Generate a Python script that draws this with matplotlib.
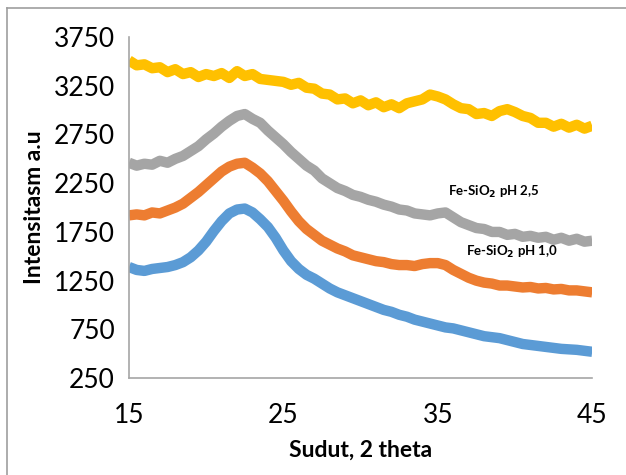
import numpy as np
import matplotlib
matplotlib.use('Agg')
import matplotlib.pyplot as plt
from matplotlib.lines import Line2D

# 2 theta grid (0.5 deg steps) and intensities
theta = np.linspace(15, 45, 61)

yellow = [3510, 3460, 3470, 3430, 3440, 3390, 3420, 3370, 3390, 3340,
          3370, 3350, 3380, 3330, 3400, 3350, 3370, 3320, 3310, 3300,
          3290, 3260, 3280, 3230, 3220, 3170, 3160, 3110, 3120, 3070,
          3100, 3050, 3080, 3030, 3060, 3020, 3070, 3090, 3110, 3160,
          3140, 3110, 3060, 3020, 3010, 2960, 2970, 2940, 2990, 3010,
          2980, 2940, 2920, 2870, 2870, 2830, 2860, 2820, 2850, 2810,
          2840]

gray = [2460, 2430, 2450, 2440, 2480, 2460, 2500, 2530, 2580, 2630,
        2700, 2760, 2830, 2890, 2940, 2960, 2910, 2870, 2790, 2720,
        2650, 2570, 2500, 2430, 2380, 2300, 2250, 2200, 2170, 2130,
        2110, 2080, 2060, 2030, 2010, 1980, 1970, 1940, 1930, 1920,
        1940, 1950, 1900, 1850, 1820, 1790, 1780, 1750, 1750, 1720,
        1730, 1700, 1710, 1690, 1700, 1670, 1690, 1660, 1680, 1650,
        1660]

orange = [1920, 1930, 1920, 1950, 1940, 1970, 2000, 2040, 2100, 2160,
          2230, 2300, 2370, 2420, 2450, 2460, 2410, 2350, 2270, 2170,
          2070, 1960, 1860, 1780, 1720, 1660, 1620, 1580, 1550, 1510,
          1490, 1470, 1450, 1440, 1420, 1410, 1410, 1400, 1420, 1430,
          1430, 1410, 1360, 1320, 1280, 1250, 1230, 1220, 1200, 1200,
          1190, 1180, 1185, 1170, 1175, 1160, 1165, 1150, 1150, 1140,
          1130]

blue = [1390, 1360, 1350, 1370, 1380, 1390, 1410, 1440, 1490, 1560,
        1650, 1760, 1860, 1940, 1980, 1990, 1950, 1880, 1800, 1690,
        1560, 1450, 1370, 1310, 1270, 1220, 1170, 1130, 1100, 1070,
        1040, 1010, 980, 950, 930, 900, 880, 850, 830, 810,
        790, 770, 760, 740, 720, 700, 680, 670, 660, 640,
        620, 600, 590, 580, 570, 560, 550, 545, 540, 530,
        520]

y_ticks = [250, 750, 1250, 1750, 2250, 2750, 3250, 3750]
x_ticks = [15, 25, 35, 45]

plt.rcParams['font.family'] = ['Lato', 'DejaVu Sans']

fig = plt.figure(figsize=(6.26, 4.75), dpi=100)
ax = fig.add_axes([0.206, 0.204, 0.740, 0.718])

lw = 7.5
ax.plot(theta, blue, color='#5B9BD5', linewidth=lw, solid_capstyle='butt')
ax.plot(theta, orange, color='#ED7D31', linewidth=lw, solid_capstyle='butt')
ax.plot(theta, gray, color='#A5A5A5', linewidth=lw, solid_capstyle='butt')
ax.plot(theta, yellow, color='#FFC000', linewidth=lw, solid_capstyle='butt')

ax.set_xlim(15, 45)
ax.set_ylim(250, 3750)
ax.set_xticks(x_ticks)
ax.set_yticks(y_ticks)
ax.tick_params(length=0, labelsize=19, pad=10)
ax.tick_params(axis='x', pad=18)

for s in ['top', 'right']:
    ax.spines[s].set_visible(False)
for s in ['left', 'bottom']:
    ax.spines[s].set_color('#A6A6A6')
    ax.spines[s].set_linewidth(1.2)

ax.set_xlabel('Sudut, 2 theta', fontsize=16.5, fontweight='bold', labelpad=8)
ax.set_ylabel('Intensitasm a.u', fontsize=16.5, fontweight='bold', labelpad=6)

ax.text(35.67, 2159, r'Fe-SiO$_\mathbf{2}$ pH 2,5', fontsize=9.5,
        fontweight='bold', va='center', ha='left')
ax.text(36.84, 1543, r'Fe-SiO$_\mathbf{2}$ pH 1,0', fontsize=9.5,
        fontweight='bold', va='center', ha='left')

# chart frame (only top and left edges are visible in the crop)
fig.add_artist(Line2D([7 / 626, 1], [1 - 8 / 475, 1 - 8 / 475],
                      transform=fig.transFigure, color='#9E9E9E', lw=1.2))
fig.add_artist(Line2D([7 / 626, 7 / 626], [0, 1 - 8 / 475],
                      transform=fig.transFigure, color='#9E9E9E', lw=1.2))

fig.savefig('out.png', dpi=100)
